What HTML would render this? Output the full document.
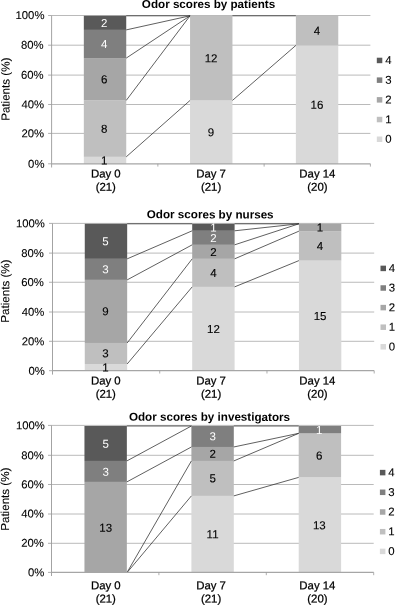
<!DOCTYPE html>
<html><head><meta charset="utf-8"><title>Odor scores</title>
<style>html,body{margin:0;padding:0;background:#fff;overflow:hidden}svg{display:block}</style></head>
<body>
<svg width="395" height="605" viewBox="0 0 395 605" font-family="Liberation Sans, Arial, sans-serif">
<rect width="395" height="605" fill="#fff"/>
<g id="chart1">
<line x1="48.1" y1="163.80" x2="51.6" y2="163.80" stroke="#999" stroke-width="0.8"/>
<text x="44.45" y="167.70" font-size="11.3" text-anchor="end" fill="#000" stroke="#000" stroke-width="0.1" transform="rotate(0.1 44.45 167.70)">0%</text>
<line x1="51.6" y1="133.40" x2="370.4" y2="133.40" stroke="#a8a8a8" stroke-width="0.8"/>
<line x1="48.1" y1="133.40" x2="51.6" y2="133.40" stroke="#999" stroke-width="0.8"/>
<text x="44.00" y="137.30" font-size="11.3" text-anchor="end" fill="#000" stroke="#000" stroke-width="0.1" transform="rotate(0.1 44.00 137.30)">20%</text>
<line x1="51.6" y1="104.50" x2="370.4" y2="104.50" stroke="#a8a8a8" stroke-width="0.8"/>
<line x1="48.1" y1="104.50" x2="51.6" y2="104.50" stroke="#999" stroke-width="0.8"/>
<text x="44.00" y="108.40" font-size="11.3" text-anchor="end" fill="#000" stroke="#000" stroke-width="0.1" transform="rotate(0.1 44.00 108.40)">40%</text>
<line x1="51.6" y1="75.10" x2="370.4" y2="75.10" stroke="#a8a8a8" stroke-width="0.8"/>
<line x1="48.1" y1="75.10" x2="51.6" y2="75.10" stroke="#999" stroke-width="0.8"/>
<text x="43.55" y="78.70" font-size="11.3" text-anchor="end" fill="#000" stroke="#000" stroke-width="0.1" transform="rotate(0.1 43.55 78.70)">60%</text>
<line x1="51.6" y1="45.20" x2="370.4" y2="45.20" stroke="#a8a8a8" stroke-width="0.8"/>
<line x1="48.1" y1="45.20" x2="51.6" y2="45.20" stroke="#999" stroke-width="0.8"/>
<text x="43.55" y="48.80" font-size="11.3" text-anchor="end" fill="#000" stroke="#000" stroke-width="0.1" transform="rotate(0.1 43.55 48.80)">80%</text>
<line x1="51.6" y1="15.50" x2="370.4" y2="15.50" stroke="#a8a8a8" stroke-width="0.8"/>
<line x1="48.1" y1="15.50" x2="51.6" y2="15.50" stroke="#999" stroke-width="0.8"/>
<text x="44.45" y="19.10" font-size="11.3" text-anchor="end" fill="#000" stroke="#000" stroke-width="0.1" transform="rotate(0.1 44.45 19.10)">100%</text>
<rect x="83.83" y="156.85" width="42.4" height="7.05" fill="#d9d9d9"/>
<rect x="83.83" y="100.43" width="42.4" height="56.42" fill="#bfbfbf"/>
<rect x="83.83" y="58.11" width="42.4" height="42.31" fill="#a6a6a6"/>
<rect x="83.83" y="29.90" width="42.4" height="28.21" fill="#7f7f7f"/>
<rect x="83.83" y="15.80" width="42.4" height="14.10" fill="#595959"/>
<rect x="190.05" y="100.43" width="42.4" height="63.47" fill="#d9d9d9"/>
<rect x="190.05" y="15.80" width="42.4" height="84.63" fill="#bfbfbf"/>
<rect x="295.87" y="45.42" width="42.4" height="118.48" fill="#d9d9d9"/>
<rect x="295.87" y="15.80" width="42.4" height="29.62" fill="#bfbfbf"/>
<line x1="126.23" y1="156.85" x2="190.05" y2="100.43" stroke="#2b2b2b" stroke-width="0.75"/>
<line x1="126.23" y1="100.43" x2="190.05" y2="15.80" stroke="#2b2b2b" stroke-width="0.75"/>
<line x1="126.23" y1="58.11" x2="190.05" y2="15.80" stroke="#2b2b2b" stroke-width="0.75"/>
<line x1="126.23" y1="29.90" x2="190.05" y2="15.80" stroke="#2b2b2b" stroke-width="0.75"/>
<line x1="126.23" y1="15.80" x2="190.05" y2="15.80" stroke="#2b2b2b" stroke-width="0.75"/>
<line x1="232.45" y1="100.43" x2="295.87" y2="45.42" stroke="#2b2b2b" stroke-width="0.75"/>
<line x1="232.45" y1="15.80" x2="295.87" y2="15.80" stroke="#2b2b2b" stroke-width="0.75"/>
<line x1="51.6" y1="15.5" x2="51.6" y2="167.5" stroke="#999" stroke-width="0.9"/>
<line x1="51.6" y1="163.8" x2="370.4" y2="163.8" stroke="#a6a6a6" stroke-width="1.2"/>
<line x1="157.87" y1="163.8" x2="157.87" y2="166.60000000000002" stroke="#999" stroke-width="0.8"/>
<line x1="264.13" y1="163.8" x2="264.13" y2="166.60000000000002" stroke="#999" stroke-width="0.8"/>
<line x1="370.40" y1="163.8" x2="370.40" y2="166.60000000000002" stroke="#999" stroke-width="0.8"/>
<text x="104.23" y="164.47" font-size="11.5" text-anchor="middle" fill="#000" stroke="#000" stroke-width="0.12" transform="rotate(0.1 104.23 164.47)">1</text>
<text x="104.23" y="132.74" font-size="11.5" text-anchor="middle" fill="#000" stroke="#000" stroke-width="0.12" transform="rotate(0.1 104.23 132.74)">8</text>
<text x="104.23" y="83.37" font-size="11.5" text-anchor="middle" fill="#000" stroke="#000" stroke-width="0.12" transform="rotate(0.1 104.23 83.37)">6</text>
<text x="104.23" y="48.11" font-size="11.5" text-anchor="middle" fill="#fff" stroke="#fff" stroke-width="0" transform="rotate(0.1 104.23 48.11)">4</text>
<text x="104.23" y="26.95" font-size="11.5" text-anchor="middle" fill="#fff" stroke="#fff" stroke-width="0" transform="rotate(0.1 104.23 26.95)">2</text>
<text x="211.05" y="136.26" font-size="11.5" text-anchor="middle" fill="#000" stroke="#000" stroke-width="0.12" transform="rotate(0.1 211.05 136.26)">9</text>
<text x="211.05" y="62.21" font-size="11.5" text-anchor="middle" fill="#000" stroke="#000" stroke-width="0.12" transform="rotate(0.1 211.05 62.21)">12</text>
<text x="316.97" y="108.86" font-size="11.5" text-anchor="middle" fill="#000" stroke="#000" stroke-width="0.12" transform="rotate(0.1 316.97 108.86)">16</text>
<text x="316.97" y="34.81" font-size="11.5" text-anchor="middle" fill="#000" stroke="#000" stroke-width="0.12" transform="rotate(0.1 316.97 34.81)">4</text>
<text x="105.80" y="177.60" font-size="11.4" text-anchor="middle" fill="#000" stroke="#000" stroke-width="0.25" transform="rotate(0.1 105.80 177.60)">Day 0</text>
<text x="105.80" y="190.80" font-size="11.4" text-anchor="middle" fill="#000" stroke="#000" stroke-width="0.25" transform="rotate(0.1 105.80 190.80)">(21)</text>
<text x="211.10" y="177.60" font-size="11.4" text-anchor="middle" fill="#000" stroke="#000" stroke-width="0.25" transform="rotate(0.1 211.10 177.60)">Day 7</text>
<text x="211.10" y="190.80" font-size="11.4" text-anchor="middle" fill="#000" stroke="#000" stroke-width="0.25" transform="rotate(0.1 211.10 190.80)">(21)</text>
<text x="317.40" y="177.60" font-size="11.4" text-anchor="middle" fill="#000" stroke="#000" stroke-width="0.25" transform="rotate(0.1 317.40 177.60)">Day 14</text>
<text x="317.40" y="190.80" font-size="11.4" text-anchor="middle" fill="#000" stroke="#000" stroke-width="0.25" transform="rotate(0.1 317.40 190.80)">(20)</text>
<text x="208.5" y="8.0" transform="rotate(0.1 208.5 8.0)" font-size="11.65" font-weight="bold" text-anchor="middle" fill="#000">Odor scores by patients</text>
<text transform="translate(9.45,89.25) rotate(-89.9)" font-size="11.6" text-anchor="middle" fill="#000" stroke="#000" stroke-width="0.1">Patients (%)</text>
<rect x="376.8" y="57.70" width="5.5" height="5.5" fill="#595959"/>
<text x="385.20" y="64.05" font-size="11.4" text-anchor="start" fill="#000" stroke="#000" stroke-width="0.1" transform="rotate(0.1 385.20 64.05)">4</text>
<rect x="376.8" y="77.40" width="5.5" height="5.5" fill="#7f7f7f"/>
<text x="385.20" y="83.75" font-size="11.4" text-anchor="start" fill="#000" stroke="#000" stroke-width="0.1" transform="rotate(0.1 385.20 83.75)">3</text>
<rect x="376.8" y="97.10" width="5.5" height="5.5" fill="#a6a6a6"/>
<text x="385.20" y="103.45" font-size="11.4" text-anchor="start" fill="#000" stroke="#000" stroke-width="0.1" transform="rotate(0.1 385.20 103.45)">2</text>
<rect x="376.8" y="116.80" width="5.5" height="5.5" fill="#bfbfbf"/>
<text x="385.20" y="123.15" font-size="11.4" text-anchor="start" fill="#000" stroke="#000" stroke-width="0.1" transform="rotate(0.1 385.20 123.15)">1</text>
<rect x="376.8" y="136.50" width="5.5" height="5.5" fill="#d9d9d9"/>
<text x="385.20" y="142.85" font-size="11.4" text-anchor="start" fill="#000" stroke="#000" stroke-width="0.1" transform="rotate(0.1 385.20 142.85)">0</text>
</g>
<g id="chart2">
<line x1="49.0" y1="370.70" x2="52.5" y2="370.70" stroke="#999" stroke-width="0.8"/>
<text x="44.90" y="374.90" font-size="11.3" text-anchor="end" fill="#000" stroke="#000" stroke-width="0.1" transform="rotate(0.1 44.90 374.90)">0%</text>
<line x1="52.5" y1="341.30" x2="374.2" y2="341.30" stroke="#a8a8a8" stroke-width="0.8"/>
<line x1="49.0" y1="341.30" x2="52.5" y2="341.30" stroke="#999" stroke-width="0.8"/>
<text x="44.40" y="345.20" font-size="11.3" text-anchor="end" fill="#000" stroke="#000" stroke-width="0.1" transform="rotate(0.1 44.40 345.20)">20%</text>
<line x1="52.5" y1="312.00" x2="374.2" y2="312.00" stroke="#a8a8a8" stroke-width="0.8"/>
<line x1="49.0" y1="312.00" x2="52.5" y2="312.00" stroke="#999" stroke-width="0.8"/>
<text x="44.40" y="315.90" font-size="11.3" text-anchor="end" fill="#000" stroke="#000" stroke-width="0.1" transform="rotate(0.1 44.40 315.90)">40%</text>
<line x1="52.5" y1="282.25" x2="374.2" y2="282.25" stroke="#a8a8a8" stroke-width="0.8"/>
<line x1="49.0" y1="282.25" x2="52.5" y2="282.25" stroke="#999" stroke-width="0.8"/>
<text x="43.90" y="286.15" font-size="11.3" text-anchor="end" fill="#000" stroke="#000" stroke-width="0.1" transform="rotate(0.1 43.90 286.15)">60%</text>
<line x1="52.5" y1="253.10" x2="374.2" y2="253.10" stroke="#a8a8a8" stroke-width="0.8"/>
<line x1="49.0" y1="253.10" x2="52.5" y2="253.10" stroke="#999" stroke-width="0.8"/>
<text x="43.90" y="257.00" font-size="11.3" text-anchor="end" fill="#000" stroke="#000" stroke-width="0.1" transform="rotate(0.1 43.90 257.00)">80%</text>
<line x1="52.5" y1="223.40" x2="374.2" y2="223.40" stroke="#a8a8a8" stroke-width="0.8"/>
<line x1="49.0" y1="223.40" x2="52.5" y2="223.40" stroke="#999" stroke-width="0.8"/>
<text x="44.90" y="227.30" font-size="11.3" text-anchor="end" fill="#000" stroke="#000" stroke-width="0.1" transform="rotate(0.1 44.90 227.30)">100%</text>
<rect x="84.77" y="363.99" width="42.4" height="7.01" fill="#d9d9d9"/>
<rect x="84.77" y="342.96" width="42.4" height="21.03" fill="#bfbfbf"/>
<rect x="84.77" y="279.88" width="42.4" height="63.09" fill="#a6a6a6"/>
<rect x="84.77" y="258.85" width="42.4" height="21.03" fill="#7f7f7f"/>
<rect x="84.77" y="223.80" width="42.4" height="35.05" fill="#595959"/>
<rect x="192.20" y="286.89" width="42.4" height="84.11" fill="#d9d9d9"/>
<rect x="192.20" y="258.85" width="42.4" height="28.04" fill="#bfbfbf"/>
<rect x="192.20" y="244.83" width="42.4" height="14.02" fill="#a6a6a6"/>
<rect x="192.20" y="230.81" width="42.4" height="14.02" fill="#7f7f7f"/>
<rect x="192.20" y="223.80" width="42.4" height="7.01" fill="#595959"/>
<rect x="298.93" y="260.60" width="42.4" height="110.40" fill="#d9d9d9"/>
<rect x="298.93" y="231.16" width="42.4" height="29.44" fill="#bfbfbf"/>
<rect x="298.93" y="223.80" width="42.4" height="7.36" fill="#a6a6a6"/>
<line x1="127.17" y1="363.99" x2="192.20" y2="286.89" stroke="#2b2b2b" stroke-width="0.75"/>
<line x1="127.17" y1="342.96" x2="192.20" y2="258.85" stroke="#2b2b2b" stroke-width="0.75"/>
<line x1="127.17" y1="279.88" x2="192.20" y2="244.83" stroke="#2b2b2b" stroke-width="0.75"/>
<line x1="127.17" y1="258.85" x2="192.20" y2="230.81" stroke="#2b2b2b" stroke-width="0.75"/>
<line x1="127.17" y1="223.80" x2="192.20" y2="223.80" stroke="#2b2b2b" stroke-width="0.75"/>
<line x1="234.60" y1="286.89" x2="298.93" y2="260.60" stroke="#2b2b2b" stroke-width="0.75"/>
<line x1="234.60" y1="258.85" x2="298.93" y2="231.16" stroke="#2b2b2b" stroke-width="0.75"/>
<line x1="234.60" y1="244.83" x2="298.93" y2="223.80" stroke="#2b2b2b" stroke-width="0.75"/>
<line x1="234.60" y1="230.81" x2="298.93" y2="223.80" stroke="#2b2b2b" stroke-width="0.75"/>
<line x1="234.60" y1="223.80" x2="298.93" y2="223.80" stroke="#2b2b2b" stroke-width="0.75"/>
<line x1="52.5" y1="223.4" x2="52.5" y2="374.6" stroke="#999" stroke-width="0.9"/>
<line x1="52.5" y1="370.7" x2="374.2" y2="370.7" stroke="#a6a6a6" stroke-width="1.2"/>
<line x1="159.73" y1="370.7" x2="159.73" y2="373.5" stroke="#999" stroke-width="0.8"/>
<line x1="266.97" y1="370.7" x2="266.97" y2="373.5" stroke="#999" stroke-width="0.8"/>
<line x1="374.20" y1="370.7" x2="374.20" y2="373.5" stroke="#999" stroke-width="0.8"/>
<text x="105.57" y="371.40" font-size="11.5" text-anchor="middle" fill="#000" stroke="#000" stroke-width="0.12" transform="rotate(0.1 105.57 371.40)">1</text>
<text x="105.57" y="357.38" font-size="11.5" text-anchor="middle" fill="#000" stroke="#000" stroke-width="0.12" transform="rotate(0.1 105.57 357.38)">3</text>
<text x="105.57" y="315.32" font-size="11.5" text-anchor="middle" fill="#000" stroke="#000" stroke-width="0.12" transform="rotate(0.1 105.57 315.32)">9</text>
<text x="105.57" y="273.26" font-size="11.5" text-anchor="middle" fill="#fff" stroke="#fff" stroke-width="0" transform="rotate(0.1 105.57 273.26)">3</text>
<text x="105.57" y="245.22" font-size="11.5" text-anchor="middle" fill="#fff" stroke="#fff" stroke-width="0" transform="rotate(0.1 105.57 245.22)">5</text>
<text x="213.50" y="333.04" font-size="11.5" text-anchor="middle" fill="#000" stroke="#000" stroke-width="0.12" transform="rotate(0.1 213.50 333.04)">12</text>
<text x="213.50" y="276.97" font-size="11.5" text-anchor="middle" fill="#000" stroke="#000" stroke-width="0.12" transform="rotate(0.1 213.50 276.97)">4</text>
<text x="213.50" y="255.94" font-size="11.5" text-anchor="middle" fill="#000" stroke="#000" stroke-width="0.12" transform="rotate(0.1 213.50 255.94)">2</text>
<text x="213.50" y="241.92" font-size="11.5" text-anchor="middle" fill="#fff" stroke="#fff" stroke-width="0" transform="rotate(0.1 213.50 241.92)">2</text>
<text x="213.50" y="231.40" font-size="11.5" text-anchor="middle" fill="#fff" stroke="#fff" stroke-width="0" transform="rotate(0.1 213.50 231.40)">1</text>
<text x="320.03" y="319.90" font-size="11.5" text-anchor="middle" fill="#000" stroke="#000" stroke-width="0.12" transform="rotate(0.1 320.03 319.90)">15</text>
<text x="320.03" y="249.98" font-size="11.5" text-anchor="middle" fill="#000" stroke="#000" stroke-width="0.12" transform="rotate(0.1 320.03 249.98)">4</text>
<text x="320.03" y="231.58" font-size="11.5" text-anchor="middle" fill="#000" stroke="#000" stroke-width="0.12" transform="rotate(0.1 320.03 231.58)">1</text>
<text x="105.80" y="384.60" font-size="11.4" text-anchor="middle" fill="#000" stroke="#000" stroke-width="0.25" transform="rotate(0.1 105.80 384.60)">Day 0</text>
<text x="105.80" y="397.70" font-size="11.4" text-anchor="middle" fill="#000" stroke="#000" stroke-width="0.25" transform="rotate(0.1 105.80 397.70)">(21)</text>
<text x="211.10" y="384.60" font-size="11.4" text-anchor="middle" fill="#000" stroke="#000" stroke-width="0.25" transform="rotate(0.1 211.10 384.60)">Day 7</text>
<text x="211.10" y="397.70" font-size="11.4" text-anchor="middle" fill="#000" stroke="#000" stroke-width="0.25" transform="rotate(0.1 211.10 397.70)">(21)</text>
<text x="317.40" y="384.60" font-size="11.4" text-anchor="middle" fill="#000" stroke="#000" stroke-width="0.25" transform="rotate(0.1 317.40 384.60)">Day 14</text>
<text x="317.40" y="397.70" font-size="11.4" text-anchor="middle" fill="#000" stroke="#000" stroke-width="0.25" transform="rotate(0.1 317.40 397.70)">(20)</text>
<text x="210.2" y="218.4" transform="rotate(0.1 210.2 218.4)" font-size="11.65" font-weight="bold" text-anchor="middle" fill="#000">Odor scores by nurses</text>
<text transform="translate(9.15,291.10) rotate(-89.9)" font-size="11.6" text-anchor="middle" fill="#000" stroke="#000" stroke-width="0.1">Patients (%)</text>
<rect x="380.5" y="265.65" width="5.5" height="5.5" fill="#595959"/>
<text x="388.80" y="272.00" font-size="11.4" text-anchor="start" fill="#000" stroke="#000" stroke-width="0.1" transform="rotate(0.1 388.80 272.00)">4</text>
<rect x="380.5" y="285.25" width="5.5" height="5.5" fill="#7f7f7f"/>
<text x="388.80" y="291.60" font-size="11.4" text-anchor="start" fill="#000" stroke="#000" stroke-width="0.1" transform="rotate(0.1 388.80 291.60)">3</text>
<rect x="380.5" y="304.85" width="5.5" height="5.5" fill="#a6a6a6"/>
<text x="388.80" y="311.20" font-size="11.4" text-anchor="start" fill="#000" stroke="#000" stroke-width="0.1" transform="rotate(0.1 388.80 311.20)">2</text>
<rect x="380.5" y="324.45" width="5.5" height="5.5" fill="#bfbfbf"/>
<text x="388.80" y="330.80" font-size="11.4" text-anchor="start" fill="#000" stroke="#000" stroke-width="0.1" transform="rotate(0.1 388.80 330.80)">1</text>
<rect x="380.5" y="344.05" width="5.5" height="5.5" fill="#d9d9d9"/>
<text x="388.80" y="350.40" font-size="11.4" text-anchor="start" fill="#000" stroke="#000" stroke-width="0.1" transform="rotate(0.1 388.80 350.40)">0</text>
</g>
<g id="chart3">
<line x1="48.0" y1="572.40" x2="51.5" y2="572.40" stroke="#999" stroke-width="0.8"/>
<text x="44.35" y="576.30" font-size="11.3" text-anchor="end" fill="#000" stroke="#000" stroke-width="0.1" transform="rotate(0.1 44.35 576.30)">0%</text>
<line x1="51.5" y1="543.30" x2="373.7" y2="543.30" stroke="#a8a8a8" stroke-width="0.8"/>
<line x1="48.0" y1="543.30" x2="51.5" y2="543.30" stroke="#999" stroke-width="0.8"/>
<text x="43.90" y="546.90" font-size="11.3" text-anchor="end" fill="#000" stroke="#000" stroke-width="0.1" transform="rotate(0.1 43.90 546.90)">20%</text>
<line x1="51.5" y1="514.00" x2="373.7" y2="514.00" stroke="#a8a8a8" stroke-width="0.8"/>
<line x1="48.0" y1="514.00" x2="51.5" y2="514.00" stroke="#999" stroke-width="0.8"/>
<text x="43.90" y="517.60" font-size="11.3" text-anchor="end" fill="#000" stroke="#000" stroke-width="0.1" transform="rotate(0.1 43.90 517.60)">40%</text>
<line x1="51.5" y1="484.50" x2="373.7" y2="484.50" stroke="#a8a8a8" stroke-width="0.8"/>
<line x1="48.0" y1="484.50" x2="51.5" y2="484.50" stroke="#999" stroke-width="0.8"/>
<text x="43.90" y="488.40" font-size="11.3" text-anchor="end" fill="#000" stroke="#000" stroke-width="0.1" transform="rotate(0.1 43.90 488.40)">60%</text>
<line x1="51.5" y1="455.30" x2="373.7" y2="455.30" stroke="#a8a8a8" stroke-width="0.8"/>
<line x1="48.0" y1="455.30" x2="51.5" y2="455.30" stroke="#999" stroke-width="0.8"/>
<text x="43.90" y="459.20" font-size="11.3" text-anchor="end" fill="#000" stroke="#000" stroke-width="0.1" transform="rotate(0.1 43.90 459.20)">80%</text>
<line x1="51.5" y1="425.40" x2="373.7" y2="425.40" stroke="#a8a8a8" stroke-width="0.8"/>
<line x1="48.0" y1="425.40" x2="51.5" y2="425.40" stroke="#999" stroke-width="0.8"/>
<text x="44.80" y="429.30" font-size="11.3" text-anchor="end" fill="#000" stroke="#000" stroke-width="0.1" transform="rotate(0.1 44.80 429.30)">100%</text>
<rect x="84.45" y="481.92" width="42.4" height="90.88" fill="#a6a6a6"/>
<rect x="84.45" y="460.95" width="42.4" height="20.97" fill="#7f7f7f"/>
<rect x="84.45" y="426.00" width="42.4" height="34.95" fill="#595959"/>
<rect x="191.40" y="495.90" width="42.4" height="76.90" fill="#d9d9d9"/>
<rect x="191.40" y="460.95" width="42.4" height="34.95" fill="#bfbfbf"/>
<rect x="191.40" y="446.97" width="42.4" height="13.98" fill="#a6a6a6"/>
<rect x="191.40" y="426.00" width="42.4" height="20.97" fill="#7f7f7f"/>
<rect x="298.70" y="477.38" width="42.4" height="95.42" fill="#d9d9d9"/>
<rect x="298.70" y="433.34" width="42.4" height="44.04" fill="#bfbfbf"/>
<rect x="298.70" y="426.00" width="42.4" height="7.34" fill="#7f7f7f"/>
<line x1="126.85" y1="572.80" x2="191.40" y2="495.90" stroke="#2b2b2b" stroke-width="0.75"/>
<line x1="126.85" y1="572.80" x2="191.40" y2="460.95" stroke="#2b2b2b" stroke-width="0.75"/>
<line x1="126.85" y1="481.92" x2="191.40" y2="446.97" stroke="#2b2b2b" stroke-width="0.75"/>
<line x1="126.85" y1="460.95" x2="191.40" y2="426.00" stroke="#2b2b2b" stroke-width="0.75"/>
<line x1="126.85" y1="426.00" x2="191.40" y2="426.00" stroke="#2b2b2b" stroke-width="0.75"/>
<line x1="233.80" y1="495.90" x2="298.70" y2="477.38" stroke="#2b2b2b" stroke-width="0.75"/>
<line x1="233.80" y1="460.95" x2="298.70" y2="433.34" stroke="#2b2b2b" stroke-width="0.75"/>
<line x1="233.80" y1="446.97" x2="298.70" y2="433.34" stroke="#2b2b2b" stroke-width="0.75"/>
<line x1="233.80" y1="426.00" x2="298.70" y2="426.00" stroke="#2b2b2b" stroke-width="0.75"/>
<line x1="51.5" y1="425.4" x2="51.5" y2="576.0" stroke="#999" stroke-width="0.9"/>
<line x1="51.5" y1="572.4" x2="373.7" y2="572.4" stroke="#a6a6a6" stroke-width="1.2"/>
<line x1="158.90" y1="572.4" x2="158.90" y2="575.1999999999999" stroke="#999" stroke-width="0.8"/>
<line x1="266.30" y1="572.4" x2="266.30" y2="575.1999999999999" stroke="#999" stroke-width="0.8"/>
<line x1="373.70" y1="572.4" x2="373.70" y2="575.1999999999999" stroke="#999" stroke-width="0.8"/>
<text x="105.75" y="531.76" font-size="11.5" text-anchor="middle" fill="#000" stroke="#000" stroke-width="0.12" transform="rotate(0.1 105.75 531.76)">13</text>
<text x="105.75" y="475.84" font-size="11.5" text-anchor="middle" fill="#fff" stroke="#fff" stroke-width="0" transform="rotate(0.1 105.75 475.84)">3</text>
<text x="105.75" y="447.88" font-size="11.5" text-anchor="middle" fill="#fff" stroke="#fff" stroke-width="0" transform="rotate(0.1 105.75 447.88)">5</text>
<text x="212.60" y="538.25" font-size="11.5" text-anchor="middle" fill="#000" stroke="#000" stroke-width="0.12" transform="rotate(0.1 212.60 538.25)">11</text>
<text x="212.60" y="482.33" font-size="11.5" text-anchor="middle" fill="#000" stroke="#000" stroke-width="0.12" transform="rotate(0.1 212.60 482.33)">5</text>
<text x="212.60" y="457.86" font-size="11.5" text-anchor="middle" fill="#000" stroke="#000" stroke-width="0.12" transform="rotate(0.1 212.60 457.86)">2</text>
<text x="212.60" y="440.39" font-size="11.5" text-anchor="middle" fill="#fff" stroke="#fff" stroke-width="0" transform="rotate(0.1 212.60 440.39)">3</text>
<text x="319.30" y="529.29" font-size="11.5" text-anchor="middle" fill="#000" stroke="#000" stroke-width="0.12" transform="rotate(0.1 319.30 529.29)">13</text>
<text x="319.30" y="459.56" font-size="11.5" text-anchor="middle" fill="#000" stroke="#000" stroke-width="0.12" transform="rotate(0.1 319.30 459.56)">6</text>
<text x="319.30" y="434.07" font-size="11.5" text-anchor="middle" fill="#fff" stroke="#fff" stroke-width="0" transform="rotate(0.1 319.30 434.07)">1</text>
<text x="105.80" y="589.30" font-size="11.4" text-anchor="middle" fill="#000" stroke="#000" stroke-width="0.25" transform="rotate(0.1 105.80 589.30)">Day 0</text>
<text x="105.80" y="602.50" font-size="11.4" text-anchor="middle" fill="#000" stroke="#000" stroke-width="0.25" transform="rotate(0.1 105.80 602.50)">(21)</text>
<text x="211.10" y="589.30" font-size="11.4" text-anchor="middle" fill="#000" stroke="#000" stroke-width="0.25" transform="rotate(0.1 211.10 589.30)">Day 7</text>
<text x="211.10" y="602.50" font-size="11.4" text-anchor="middle" fill="#000" stroke="#000" stroke-width="0.25" transform="rotate(0.1 211.10 602.50)">(21)</text>
<text x="317.40" y="589.30" font-size="11.4" text-anchor="middle" fill="#000" stroke="#000" stroke-width="0.25" transform="rotate(0.1 317.40 589.30)">Day 14</text>
<text x="317.40" y="602.50" font-size="11.4" text-anchor="middle" fill="#000" stroke="#000" stroke-width="0.25" transform="rotate(0.1 317.40 602.50)">(20)</text>
<text x="209.5" y="420.8" transform="rotate(0.1 209.5 420.8)" font-size="11.65" font-weight="bold" text-anchor="middle" fill="#000">Odor scores by investigators</text>
<text transform="translate(9.0,499.20) rotate(-89.9)" font-size="11.6" text-anchor="middle" fill="#000" stroke="#000" stroke-width="0.1">Patients (%)</text>
<rect x="379.9" y="469.85" width="5.5" height="5.5" fill="#595959"/>
<text x="388.30" y="476.20" font-size="11.4" text-anchor="start" fill="#000" stroke="#000" stroke-width="0.1" transform="rotate(0.1 388.30 476.20)">4</text>
<rect x="379.9" y="489.55" width="5.5" height="5.5" fill="#7f7f7f"/>
<text x="388.30" y="495.90" font-size="11.4" text-anchor="start" fill="#000" stroke="#000" stroke-width="0.1" transform="rotate(0.1 388.30 495.90)">3</text>
<rect x="379.9" y="509.25" width="5.5" height="5.5" fill="#a6a6a6"/>
<text x="388.30" y="515.60" font-size="11.4" text-anchor="start" fill="#000" stroke="#000" stroke-width="0.1" transform="rotate(0.1 388.30 515.60)">2</text>
<rect x="379.9" y="528.95" width="5.5" height="5.5" fill="#bfbfbf"/>
<text x="388.30" y="535.30" font-size="11.4" text-anchor="start" fill="#000" stroke="#000" stroke-width="0.1" transform="rotate(0.1 388.30 535.30)">1</text>
<rect x="379.9" y="548.65" width="5.5" height="5.5" fill="#d9d9d9"/>
<text x="388.30" y="555.00" font-size="11.4" text-anchor="start" fill="#000" stroke="#000" stroke-width="0.1" transform="rotate(0.1 388.30 555.00)">0</text>
</g>
</svg>
</body></html>
